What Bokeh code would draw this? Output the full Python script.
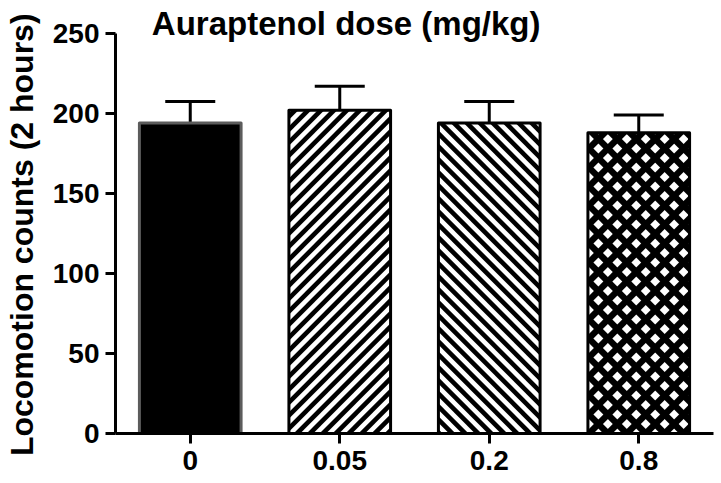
import math
from bokeh.plotting import figure
from bokeh.models import Range1d, FixedTicker, Whisker, TeeHead, ColumnDataSource, Label
from bokeh.embed import file_html
from bokeh.resources import INLINE

doses = ["0", "0.05", "0.2", "0.8"]
means = [194, 202, 194, 188]
sems = [13.5, 15, 13.5, 11]
y_ticks = [0, 50, 100, 150, 200, 250]
title_text = "Auraptenol dose (mg/kg)"
y_label = "Locomotion counts (2 hours)"

xs = list(range(len(doses)))
fills = ["black", "white", "white", "white"]
outlines = ["#5c5c5c", "black", "black", "black"]
# hatch style per bar: stripe directions (+1 "/", -1 "\"), period px, half width px
hatch_dirs = [[], [1], [-1], [1, -1]]
hatch_period = [0, 13, 13, 19]
hatch_half = [0, 3.3, 3.3, 4.6]

FONT = "Liberation Sans"
W, H = 721, 483
BL, BR, BT, BB = 113, 8, 0, 50
X0, X1, Y0, Y1 = -0.5, 3.5, 0, 270.6
BAR_W = 0.68
FW, FH = W - BL - BR, H - BT - BB
SX, SY = FW / (X1 - X0), FH / (Y1 - Y0)


def clip_poly(pts, xmin, xmax, ymin, ymax):
    def clip(pts, inside, inter):
        out = []
        n = len(pts)
        for i in range(n):
            cur, prev = pts[i], pts[i - 1]
            if inside(cur):
                if not inside(prev):
                    out.append(inter(prev, cur))
                out.append(cur)
            elif inside(prev):
                out.append(inter(prev, cur))
        return out

    def ix(p, q, x):
        t = (x - p[0]) / (q[0] - p[0])
        return (x, p[1] + t * (q[1] - p[1]))

    def iy(p, q, y):
        t = (y - p[1]) / (q[1] - p[1])
        return (p[0] + t * (q[0] - p[0]), y)

    for inside, inter in (
        (lambda p: p[0] >= xmin, lambda p, q: ix(p, q, xmin)),
        (lambda p: p[0] <= xmax, lambda p, q: ix(p, q, xmax)),
        (lambda p: p[1] >= ymin, lambda p, q: iy(p, q, ymin)),
        (lambda p: p[1] <= ymax, lambda p, q: iy(p, q, ymax)),
    ):
        pts = clip(pts, inside, inter)
        if not pts:
            return []
    return pts


stripe_xs, stripe_ys = [], []
for xi, top, dirs, per, hw in zip(xs, means, hatch_dirs, hatch_period, hatch_half):
    u0 = (xi - BAR_W / 2 - X0) * SX
    u1 = (xi + BAR_W / 2 - X0) * SX
    vt = (top - Y0) * SY
    for d in dirs:
        if d > 0:
            cmin, cmax = -u1, vt - u0
        else:
            cmin, cmax = u0, vt + u1
        for k in range(math.floor((cmin - hw) / per) - 1, math.ceil((cmax + hw) / per) + 2):
            c = k * per
            ua, ub = u0 - 50, u1 + 50
            poly = [(ua, d * ua + c - hw), (ub, d * ub + c - hw),
                    (ub, d * ub + c + hw), (ua, d * ua + c + hw)]
            cp = clip_poly(poly, u0, u1, 0, vt)
            if len(cp) >= 3:
                stripe_xs.append([p[0] / SX + X0 for p in cp])
                stripe_ys.append([p[1] / SY + Y0 for p in cp])

src = ColumnDataSource(dict(
    x=xs, top=means, upper=[m + s for m, s in zip(means, sems)],
    fill=fills, line=outlines,
))

p = figure(width=W, height=H, output_backend="svg", toolbar_location=None,
           x_range=Range1d(X0, X1), y_range=Range1d(Y0, Y1),
           min_border_left=BL, min_border_right=BR, min_border_top=BT,
           min_border_bottom=BB)
p.outline_line_color = None
p.xgrid.visible = False
p.ygrid.visible = False
p.background_fill_color = "white"
p.border_fill_color = "white"

p.vbar(x="x", top="top", width=BAR_W, source=src, fill_color="fill", line_color=None)
p.patches(stripe_xs, stripe_ys, fill_color="black", line_color=None)
p.vbar(x="x", top="top", width=BAR_W, source=src, fill_color=None,
       line_color="line", line_width=3, line_join="round")

w = Whisker(source=src, base="x", upper="upper", lower="top", dimension="height",
            line_width=3, line_color="black",
            upper_head=TeeHead(size=50, line_width=3, line_color="black"),
            lower_head=None)
p.add_layout(w)

for ax in (p.xaxis[0], p.yaxis[0]):
    ax.axis_line_width = 3
    ax.major_tick_line_width = 3
    ax.major_tick_out = 10
    ax.major_tick_in = 0
    ax.minor_tick_line_color = None
    ax.major_label_text_font = FONT
    ax.major_label_text_font_style = "bold"
    ax.major_label_text_font_size = "28px"
    ax.major_label_text_color = "black"

p.xaxis.ticker = FixedTicker(ticks=xs)
p.xaxis.major_label_overrides = {i: d for i, d in enumerate(doses)}
p.xaxis.major_label_standoff = 7
p.yaxis.ticker = FixedTicker(ticks=y_ticks)
p.yaxis.bounds = (0, 250)
p.yaxis.major_label_standoff = 6

# trailing no-break spaces centre the visible label on the 0-250 axis
p.yaxis.axis_label = y_label + "\u00a0" * 4
p.yaxis.axis_label_text_font = FONT
p.yaxis.axis_label_text_font_style = "bold"
p.yaxis.axis_label_text_font_size = "32px"
p.yaxis.axis_label_text_color = "black"
p.yaxis.axis_label_standoff = 10

title = Label(x=1.043, y=256.5, text=title_text, text_align="center",
              text_baseline="middle", text_font=FONT,
              text_font_style="bold", text_font_size="33px", text_color="black")
p.add_layout(title)

open("out.html", "w").write(file_html(p, INLINE))
